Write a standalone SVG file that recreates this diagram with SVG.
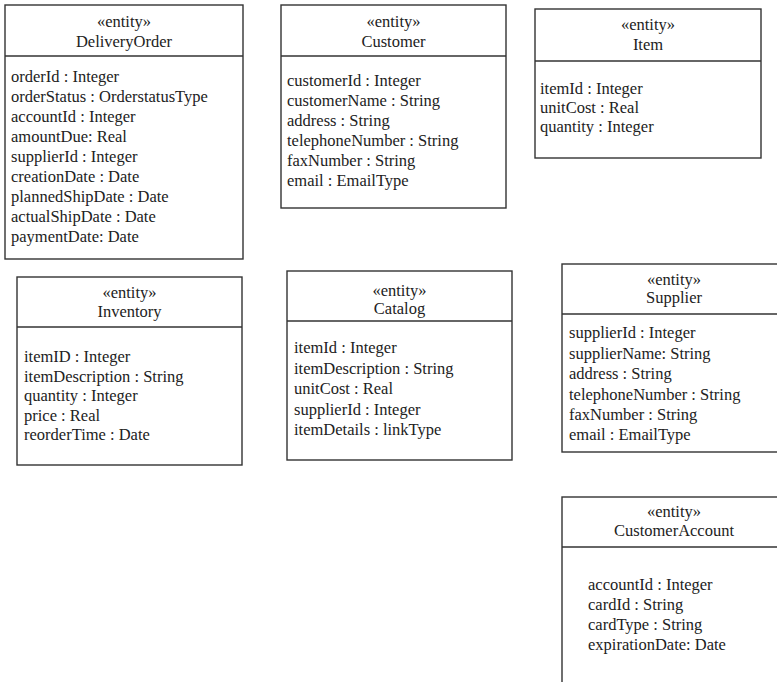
<svg xmlns="http://www.w3.org/2000/svg" width="777" height="682" viewBox="0 0 777 682">
<style>
.box{fill:#fff;stroke:#333;stroke-width:1.4}
.div{stroke:#333;stroke-width:1.4}
text{font-family:"Liberation Serif","Times New Roman",serif;font-size:16.5px;fill:#222}
.c{text-anchor:middle}
</style>
<rect width="777" height="682" fill="#fff"/>
<g id="DeliveryOrder">
<rect class="box" x="5" y="5" width="238" height="254"/>
<line class="div" x1="5" y1="56" x2="243" y2="56"/>
<text class="c" x="124" y="27">«entity»</text>
<text class="c" x="124" y="47">DeliveryOrder</text>
<text x="11" y="82">orderId : Integer</text>
<text x="11" y="102">orderStatus : OrderstatusType</text>
<text x="11" y="122">accountId : Integer</text>
<text x="11" y="142">amountDue: Real</text>
<text x="11" y="162">supplierId : Integer</text>
<text x="11" y="182">creationDate : Date</text>
<text x="11" y="202">plannedShipDate : Date</text>
<text x="11" y="222">actualShipDate : Date</text>
<text x="11" y="242">paymentDate: Date</text>
</g>
<g id="Customer">
<rect class="box" x="281" y="5" width="225" height="203"/>
<line class="div" x1="281" y1="56" x2="506" y2="56"/>
<text class="c" x="393.5" y="27">«entity»</text>
<text class="c" x="393.5" y="47">Customer</text>
<text x="287" y="86">customerId : Integer</text>
<text x="287" y="106">customerName : String</text>
<text x="287" y="126">address : String</text>
<text x="287" y="146">telephoneNumber : String</text>
<text x="287" y="166">faxNumber : String</text>
<text x="287" y="186">email : EmailType</text>
</g>
<g id="Item">
<rect class="box" x="535" y="9" width="226" height="149"/>
<line class="div" x1="535" y1="61" x2="761" y2="61"/>
<text class="c" x="648" y="30">«entity»</text>
<text class="c" x="648" y="50">Item</text>
<text x="540" y="94">itemId : Integer</text>
<text x="540" y="113">unitCost : Real</text>
<text x="540" y="132">quantity : Integer</text>
</g>
<g id="Inventory">
<rect class="box" x="17" y="277" width="225" height="188"/>
<line class="div" x1="17" y1="327" x2="242" y2="327"/>
<text class="c" x="129.5" y="298">«entity»</text>
<text class="c" x="129.5" y="317">Inventory</text>
<text x="24" y="362">itemID : Integer</text>
<text x="24" y="381.5">itemDescription : String</text>
<text x="24" y="401">quantity : Integer</text>
<text x="24" y="420.5">price : Real</text>
<text x="24" y="440">reorderTime : Date</text>
</g>
<g id="Catalog">
<rect class="box" x="287" y="271" width="225" height="189"/>
<line class="div" x1="287" y1="321" x2="512" y2="321"/>
<text class="c" x="399.5" y="296">«entity»</text>
<text class="c" x="399.5" y="314">Catalog</text>
<text x="294" y="353">itemId : Integer</text>
<text x="294" y="373.5">itemDescription : String</text>
<text x="294" y="394">unitCost : Real</text>
<text x="294" y="414.5">supplierId : Integer</text>
<text x="294" y="435">itemDetails : linkType</text>
</g>
<g id="Supplier">
<rect class="box" x="562" y="264" width="230" height="188"/>
<line class="div" x1="562" y1="314" x2="792" y2="314"/>
<text class="c" x="674" y="285">«entity»</text>
<text class="c" x="674" y="303">Supplier</text>
<text x="569" y="338">supplierId : Integer</text>
<text x="569" y="358.5">supplierName: String</text>
<text x="569" y="379">address : String</text>
<text x="569" y="399.5">telephoneNumber : String</text>
<text x="569" y="420">faxNumber : String</text>
<text x="569" y="440">email : EmailType</text>
</g>
<g id="CustomerAccount">
<rect class="box" x="562" y="497" width="230" height="200"/>
<line class="div" x1="562" y1="547" x2="792" y2="547"/>
<text class="c" x="674" y="517">«entity»</text>
<text class="c" x="674" y="536">CustomerAccount</text>
<text x="588" y="590">accountId : Integer</text>
<text x="588" y="610">cardId : String</text>
<text x="588" y="630">cardType : String</text>
<text x="588" y="650">expirationDate: Date</text>
</g>
<g id="connectors"/>
</svg>
